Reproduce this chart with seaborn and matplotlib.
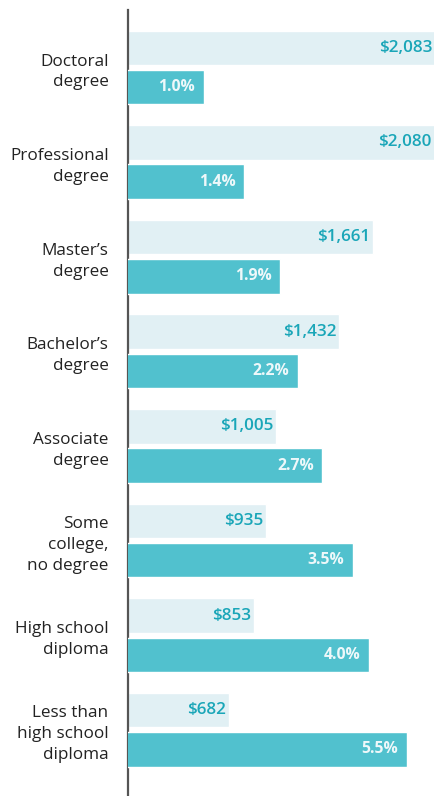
import matplotlib
matplotlib.use("Agg")
import matplotlib.pyplot as plt
from matplotlib.ticker import NullLocator
import seaborn as sns
import pandas as pd

categories = ["Doctoral\ndegree", "Professional\ndegree", "Master\u2019s\ndegree",
              "Bachelor\u2019s\ndegree", "Associate\ndegree", "Some\ncollege,\nno degree",
              "High school\ndiploma", "Less than\nhigh school\ndiploma"]
earnings = [2083, 2080, 1661, 1432, 1005, 935, 853, 682]
unemployment = [1.0, 1.4, 1.9, 2.2, 2.7, 3.5, 4.0, 5.5]
earn_labels = ["$2,083", "$2,080", "$1,661", "$1,432", "$1,005", "$935", "$853", "$682"]
unemp_labels = ["1.0%", "1.4%", "1.9%", "2.2%", "2.7%", "3.5%", "4.0%", "5.5%"]

LIGHT = "#E1F0F4"
TEAL = "#51C1CE"
TEXT_TEAL = "#1AA6B8"

sns.set_theme(style="white")
plt.rcParams["font.family"] = ["Open Sans", "DejaVu Sans"]

df_e = pd.DataFrame({"cat": categories, "value": earnings, "metric": "Earnings"})
df_u = pd.DataFrame({"cat": categories, "value": unemployment, "metric": "Unemployment"})
hue_order = ["Earnings", "Unemployment"]
pal = {"Earnings": LIGHT, "Unemployment": TEAL}

fig = plt.figure(figsize=(4.35, 7.96), dpi=100)
ax = fig.add_axes([128 / 435, 0, 1 - 128 / 435, 1 - 10 / 796])
sns.barplot(data=df_e, y="cat", x="value", hue="metric", hue_order=hue_order,
            palette=pal, order=categories, width=0.83, gap=0.12, dodge=True,
            legend=False, ax=ax, saturation=1, errorbar=None)
ax.set_xlim(0, max(earnings))

ax2 = ax.twiny()
ax2.set_xscale("log")
sns.barplot(data=df_u, y="cat", x="value", hue="metric", hue_order=hue_order,
            palette=pal, order=categories, width=0.83, gap=0.12, dodge=True,
            legend=False, ax=ax2, saturation=1, errorbar=None)
ax2.set_xlim(0.53, 6.97)

for a in (ax, ax2):
    a.set_ylim(7.70, -0.608)
    a.set_xlabel("")
    a.set_ylabel("")
    a.xaxis.set_major_locator(NullLocator())
    a.xaxis.set_minor_locator(NullLocator())
    a.tick_params(axis="x", which="both", length=0, labelbottom=False, labeltop=False)
    for s in ("top", "right", "bottom", "left"):
        a.spines[s].set_visible(False)

ax.spines["left"].set_visible(True)
ax.spines["left"].set_color("#555555")
ax.spines["left"].set_linewidth(1.6)
ax.spines["left"].set_zorder(5)

ax.set_yticks(range(len(categories)))
ax.set_yticklabels(categories, fontsize=12.3, color="#222222", linespacing=1.4)
ax.tick_params(axis="y", length=0, pad=14)
ax2.tick_params(axis="y", length=0, labelleft=False, labelright=False)

for cont in ax.containers:
    for p, lab in zip(cont.patches, earn_labels):
        ax.annotate(lab, xy=(p.get_x() + p.get_width(), p.get_y() + p.get_height() / 2),
                    xytext=(-2, 0), textcoords="offset points", ha="right", va="center",
                    color=TEXT_TEAL, fontsize=12.3, fontweight="semibold")

for cont in ax2.containers:
    for p, lab in zip(cont.patches, unemp_labels):
        ax2.annotate(lab, xy=(p.get_x() + p.get_width(), p.get_y() + p.get_height() / 2),
                     xytext=(-6, 0), textcoords="offset points", ha="right", va="center",
                     color="#EEF8FA", fontsize=11.3, fontweight="bold")

fig.savefig("out.png", dpi=100, facecolor="white")
